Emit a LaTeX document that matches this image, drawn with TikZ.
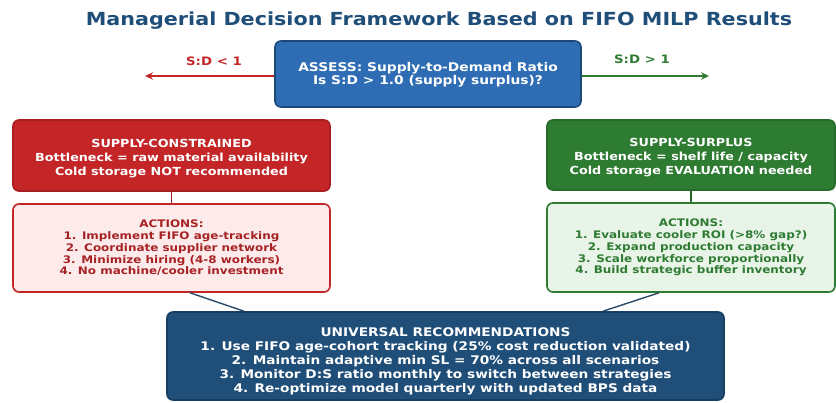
\documentclass[tikz,border=0pt]{standalone}
\usepackage{fontspec}
\setmainfont{DejaVu Sans}[FakeStretch=1.15]
\usetikzlibrary{arrows.meta,calc}
\definecolor{titleblue}{HTML}{1F4E79}
\definecolor{assessfill}{HTML}{2E6DB4}
\definecolor{assessdraw}{HTML}{1C4A78}
\definecolor{redfill}{HTML}{C42527}
\definecolor{reddraw}{HTML}{A81E20}
\definecolor{pinkfill}{HTML}{FDEBEB}
\definecolor{redtext}{HTML}{A62224}
\definecolor{greenfill}{HTML}{2E7B32}
\definecolor{greendraw}{HTML}{276B2B}
\definecolor{mintfill}{HTML}{E8F4E8}
\definecolor{greentext}{HTML}{2E7B32}
\definecolor{navyfill}{HTML}{1F4E79}
\definecolor{navydraw}{HTML}{173D60}
\definecolor{linkblue}{HTML}{2B4A6A}
% centred block of lines, drawn #1 lower than the box centre
\newcommand\droplines[2]{\raisebox{-#1}[\height][\depth]{%
  \begin{tabular}{@{}c@{}}#2\end{tabular}}}
\tikzset{
  box/.style={rounded corners=6pt, line width=1.6pt, align=center, inner sep=0pt,
              font=\bfseries\fontsize{11.1}{14}\selectfont},
  assessbox/.style={box, fill=assessfill, draw=assessdraw, text=white,
              minimum width=306pt, minimum height=66pt,
              font=\bfseries\fontsize{12}{13}\selectfont},
  headred/.style={box, fill=redfill, draw=reddraw, text=white,
              minimum width=317pt, minimum height=71pt},
  actred/.style={box, fill=pinkfill, draw=redfill, text=redtext,
              minimum width=317pt, minimum height=88pt,
              font=\bfseries\fontsize{10.4}{11.8}\selectfont},
  headgreen/.style={box, fill=greenfill, draw=greendraw, text=white,
              minimum width=288pt, minimum height=70pt},
  actgreen/.style={box, fill=mintfill, draw=greenfill, text=greentext,
              minimum width=288pt, minimum height=89pt,
              font=\bfseries\fontsize{10.4}{11.8}\selectfont},
  univbox/.style={box, fill=navyfill, draw=navydraw, text=white,
              minimum width=557pt, minimum height=88pt,
              font=\bfseries\fontsize{11.9}{14}\selectfont},
  branch/.style={line width=2pt, -{Stealth[length=8pt,width=7.5pt]}},
  stem/.style={line width=1.4pt},
  link/.style={line width=1.4pt, draw=linkblue},
  sdlabel/.style={font=\bfseries\fontsize{11.6}{12}\selectfont},
}
\begin{document}
\begin{tikzpicture}[x=1pt,y=-1pt]
\useasboundingbox (0,0) rectangle (836,402);
\fill[white] (0,0) rectangle (836,402);

\node (title) at (439,21) [text=titleblue, font=\bfseries\fontsize{18}{20}\selectfont]
  {Managerial Decision Framework Based on FIFO MILP Results};

\node[assessbox] (assess) at (428,74)
  {\droplines{1pt}{ASSESS: Supply-to-Demand Ratio\\Is S:D > 1.0 (supply surplus)?}};

\coordinate (lefttip) at (145,76);
\coordinate (righttip) at (709,76);
\draw[branch, draw=redfill] (assess.west |- lefttip) -- (lefttip);
\draw[branch, draw=greenfill] (assess.east |- righttip) -- (righttip);
\node[sdlabel, text=redfill] (lesslab) at (214,61) {S:D < 1};
\node[sdlabel, text=greenfill] (morelab) at (642,59) {S:D > 1};

\node[headred] (constr) at (171.5,155.5)
  {\droplines{3pt}{SUPPLY-CONSTRAINED\\Bottleneck = raw material availability\\Cold storage NOT recommended}};
\node[actred] (lact) at (171.5,248)
  {ACTIONS:\\1. Implement FIFO age-tracking\\2. Coordinate supplier network\\3. Minimize hiring (4-8 workers)\\4. No machine/cooler investment};
\draw[stem, draw=reddraw] (constr) -- (lact);

\node[headgreen] (surplus) at (691,155)
  {\droplines{3pt}{SUPPLY-SURPLUS\\Bottleneck = shelf life / capacity\\Cold storage EVALUATION needed}};
\node[actgreen] (ract) at (691,247.5)
  {ACTIONS:\\1. Evaluate cooler ROI (>8\% gap?)\\2. Expand production capacity\\3. Scale workforce proportionally\\4. Build strategic buffer inventory};
\draw[stem, draw=greendraw] (surplus) -- (ract);

\node[univbox] (univ) at (445.5,356)
  {\droplines{6pt}{UNIVERSAL RECOMMENDATIONS\\1. Use FIFO age-cohort tracking (25\% cost reduction validated)\\2. Maintain adaptive min SL = 70\% across all scenarios\\3. Monitor D:S ratio monthly to switch between strategies\\4. Re-optimize model quarterly with updated BPS data}};

\draw[link] ([xshift=18.5pt]lact.south) -- ([xshift=-201.5pt]univ.north);
\draw[link] ([xshift=-32pt]ract.south) -- ([xshift=157.5pt]univ.north);
\end{tikzpicture}
\end{document}
